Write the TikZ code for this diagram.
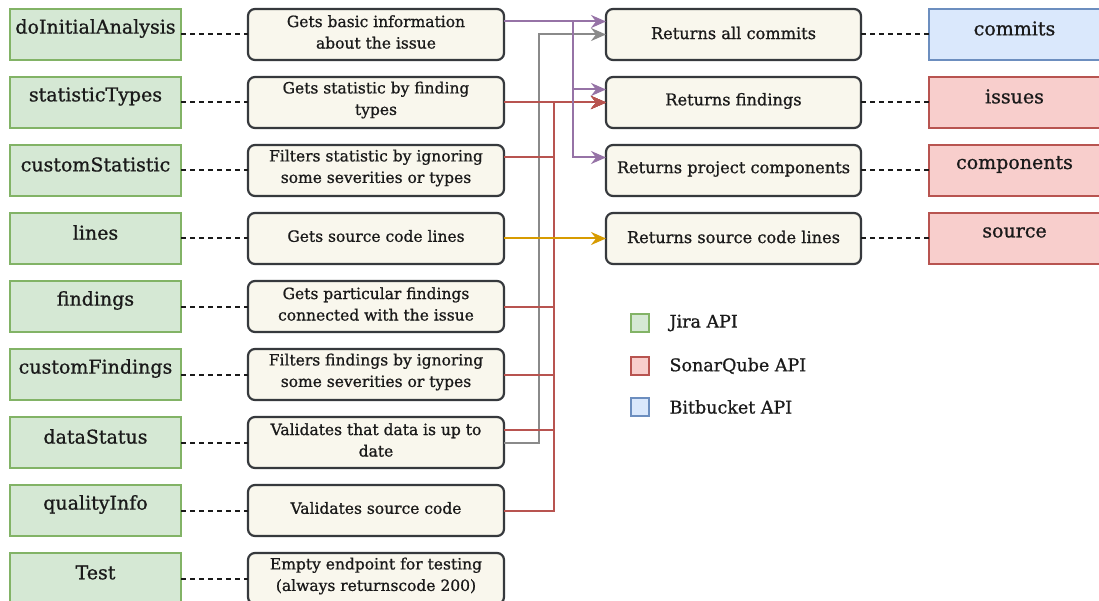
\documentclass[tikz,border=0pt]{standalone}
\usepackage{fontspec}
\setmainfont{DejaVu Serif}
\newfontfamily\heavy{DejaVu Serif}[FakeBold=0.9]
\usetikzlibrary{arrows.meta}
\definecolor{gfill}{HTML}{D5E8D4}\definecolor{gline}{HTML}{82B366}
\definecolor{rfill}{HTML}{F8CECC}\definecolor{rline}{HTML}{B85450}
\definecolor{bfill}{HTML}{DAE8FC}\definecolor{bline}{HTML}{6C8EBF}
\definecolor{cfill}{HTML}{F9F7ED}\definecolor{cline}{HTML}{36393D}
\definecolor{pur}{HTML}{9673A6}\definecolor{org}{HTML}{D79B00}\definecolor{gry}{HTML}{8A8A8A}
\definecolor{ink}{HTML}{1A1A1A}
\tikzset{
  api/.style={draw, line width=2pt, minimum width=171pt, minimum height=51pt, inner sep=0pt, outer sep=0pt},
  jira/.style={api, fill=gfill, draw=gline},
  sonar/.style={api, fill=rfill, draw=rline},
  bit/.style={api, fill=bfill, draw=bline},
  big/.style={font=\heavy\fontsize{19}{23}\selectfont, text=ink, yshift=6pt},
  desc/.style={draw=cline, fill=cfill, rounded corners=7pt, line width=2.2pt, minimum width=256pt, minimum height=51pt, inner sep=0pt, outer sep=0pt},
  desctext/.style={align=center, font=\heavy\fontsize{15.5}{21.5}\selectfont, text=ink, yshift=2.5pt},
  link/.style={dash pattern=on 5pt off 4pt, line width=2pt, ink},
  flow/.style={line width=2pt, -{Stealth[length=15pt,width=13pt,inset=5pt]}},
  legbox/.style={draw, line width=1.8pt, minimum size=18pt, inner sep=0pt},
  legtext/.style={anchor=west, font=\heavy\fontsize{17.5}{20}\selectfont, text=ink}
}
\begin{document}
\begin{tikzpicture}[x=1pt,y=-1pt]
\clip (0,0) rectangle (1099,601);
\fill[white] (0,0) rectangle (1099,601);
% left column
\foreach \t [count=\i from 0] in {doInitialAnalysis,statisticTypes,customStatistic,lines,findings,customFindings,dataStatus,qualityInfo,Test}
  \node[jira, label={[big]center:\t}] (g\i) at (95.5,{34.5+68*\i}) {};
% descriptions
\foreach \t [count=\i from 0] in {
  {Gets basic information\\about the issue},
  {Gets statistic by finding\\types},
  {Filters statistic by ignoring\\some severities or types},
  {Gets source code lines},
  {Gets particular findings\\connected with the issue},
  {Filters findings by ignoring\\some severities or types},
  {Validates that data is up to\\date},
  {Validates source code},
  {Empty endpoint for testing\\(always returnscode 200)}}
  \node[desc, label={[desctext]center:\t}] (m\i) at (376,{34.5+68*\i}) {};
\foreach \i in {0,...,8} \draw[link] (g\i.east) -- (m\i.west);
% returns
\foreach \t [count=\i from 0] in {Returns all commits,Returns findings,Returns project components,Returns source code lines}
  \node[desc, minimum width=255pt, label={[desctext,font=\heavy\fontsize{16.2}{20}\selectfont,yshift=-1pt]center:\t}] (r\i) at (733.5,{34.5+68*\i}) {};
% sources
\node[bit, label={[big]center:commits}] (s0) at (1014.5,34.5) {};
\node[sonar, label={[big]center:issues}] (s1) at (1014.5,102.5) {};
\node[sonar, label={[big]center:components}] (s2) at (1014.5,170.5) {};
\node[sonar, label={[big]center:source}] (s3) at (1014.5,238.5) {};
\foreach \i in {0,...,3} \draw[link] (r\i.east) -- (s\i.west);
% legend
\node[legbox, fill=gfill, draw=gline] (l0) at (640,323) {};
\node[legbox, fill=rfill, draw=rline] (l1) at (640,366) {};
\node[legbox, fill=bfill, draw=bline] (l2) at (640,407) {};
\node[legtext] (lt0) at (666,323) {Jira API};
\node[legtext] (lt1) at (666,366) {SonarQube API};
\node[legtext] (lt2) at (666,407) {Bitbucket API};
% ports
\coordinate (vp) at (573,0);
\coordinate (vg) at (539,0);
\coordinate (vr) at (554,0);
\coordinate (m0o) at ([yshift=13pt]m0.east);
\coordinate (m2o) at ([yshift=13pt]m2.east);
\coordinate (m6o) at ([yshift=13pt]m6.east);
\coordinate (r0p) at ([yshift=13pt]r0.west);
\coordinate (r1p) at ([yshift=13pt]r1.west);
\coordinate (r2p) at ([yshift=13pt]r2.west);
% grey
\draw[flow, gry] (m6.east) -| (vg |- r0.west) -- (r0.west);
% red
\draw[flow, rline] (m1.east) -- (r1.west);
\foreach \s in {m2o,m4.east,m5.east,m6o,m7.east}
  \draw[flow, rline] (\s) -| (vr |- r1.west) -- (r1.west);
% purple
\draw[flow, pur] (m0o) -- (r0p);
\draw[flow, pur] (m0o) -| (vp |- r1p) -- (r1p);
\draw[flow, pur] (m0o) -| (vp |- r2p) -- (r2p);
% orange
\draw[flow, org] (m3.east) -- (r3.west);
\end{tikzpicture}
\end{document}
